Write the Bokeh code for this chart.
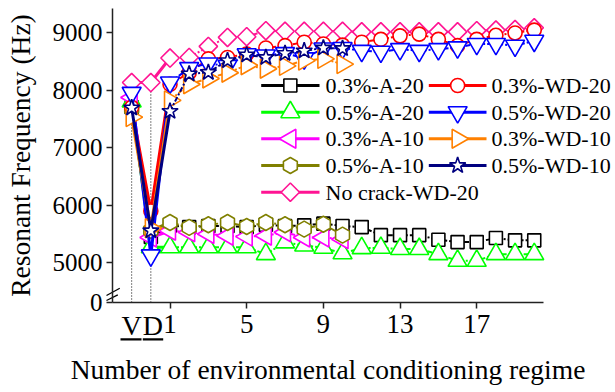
import math
from bokeh.plotting import figure
from bokeh.models import Range1d, FixedTicker, Label
from bokeh.core.properties import value
from bokeh.embed import file_html
from bokeh.resources import INLINE

# ---- data -------------------------------------------------------------
# x positions: V = -1, D = 0, then regimes 1..20
x_long = [-1, 0] + list(range(1, 21))
x_short = [-1, 0] + list(range(1, 11))
special_ticks = [-1, 0]
special_labels = ["V", "D"]
x_ticks = [1, 5, 9, 13, 17]
y_ticks = [5000, 6000, 7000, 8000, 9000]
y_break = 4311          # axis bottom, labelled "0" (broken axis)
y_top = 9420

a20_03 = [7700, 5450, 5650, 5620, 5640, 5640, 5620, 5660, 5640, 5650, 5680,
          5640, 5620, 5480, 5480, 5480, 5400, 5360, 5360, 5430, 5390, 5390]
a20_05 = [7800, 5270, 5270, 5270, 5270, 5270, 5270, 5150, 5355, 5300, 5260,
          5165, 5255, 5260, 5240, 5240, 5150, 5035, 5035, 5150, 5150, 5150]
a10_03 = [7870, 5440, 5557, 5530, 5500, 5470, 5455, 5470, 5530, 5440, 5440, 5410]
a10_05 = [7680, 5560, 5700, 5615, 5660, 5700, 5630, 5700, 5660, 5585, 5670, 5480]
nocrack = [8130, 8130, 8555, 8565, 8757, 8913, 8925, 9030, 9020, 9020, 9020,
           9020, 9010, 9010, 9010, 9010, 9010, 9010, 9030, 9040, 9050, 9080]
wd20_03 = [7700, 5900, 8100, 8300, 8540, 8565, 8625, 8730, 8770, 8830, 8800,
           8780, 8830, 8880, 8940, 8970, 8880, 8770, 8880, 8950, 8990, 9040]
wd20_05 = [7950, 5130, 8130, 8380, 8460, 8420, 8620, 8600, 8640, 8550, 8720,
           8730, 8680, 8665, 8710, 8680, 8710, 8740, 8800, 8800, 8770, 8855]
wd10_03 = [7530, 5600, 7820, 8100, 8200, 8300, 8430, 8370, 8420, 8510, 8540, 8450]
wd10_05 = [7690, 5557, 7630, 8280, 8306, 8510, 8610, 8565, 8635, 8680, 8730, 8720]

series = [
    ("0.3%-A-20", x_long, a20_03, "black", "square", 0.0, 13),
    ("0.5%-A-20", x_long, a20_05, "#00FF00", "triangle", 0.0, 19),
    ("0.3%-A-10", x_short, a10_03, "#FF00FF", "triangle", math.pi / 2, 19),
    ("0.5%-A-10", x_short, a10_05, "#808000", "hex", math.pi / 6, 16),
    ("No crack-WD-20", x_long, nocrack, "#FF1493", "square", math.pi / 4, 13),
    ("0.3%-WD-20", x_long, wd20_03, "#FF0000", "circle", 0.0, 14),
    ("0.5%-WD-20", x_long, wd20_05, "#0000FF", "inverted_triangle", 0.0, 19),
    ("0.3%-WD-10", x_short, wd10_03, "#FF8000", "triangle", -math.pi / 2, 19),
    ("0.5%-WD-10", x_short, wd10_05, "#000080", "star", 0.0, 17),
]

FONT = "Liberation Serif"

# ---- layout geometry (canvas pixels; Bokeh's page has no body margin) --
W, H = 615, 392
AX_LEFT_PX, AX_BOTTOM_PX = 112, 302        # where x=-2 / y=y_break sit
PX_PER_X = 19.17
PX_PER_Y = 0.0576


def xd(px):
    return -2 + (px - AX_LEFT_PX) / PX_PER_X


def yd(py):
    return y_break + (AX_BOTTOM_PX - py) / PX_PER_Y


p = figure(width=W, height=H, x_range=Range1d(xd(0), xd(W)),
           y_range=Range1d(yd(H), yd(0)), output_backend="svg",
           toolbar_location=None, min_border=0)
p.outline_line_color = None
p.grid.visible = False

# dotted guide lines at V and D
p.segment(x0=special_ticks, y0=[y_break] * 2, x1=special_ticks,
          y1=[nocrack[0], nocrack[1]], line_color="black",
          line_dash="1 2", line_width=1)

for name, xs, ys, color, marker, ang, size in series:
    p.line(xs[:3], ys[:3], line_color=color, line_width=3)
    p.line(xs[2:], ys[2:], line_color=color, line_width=2,
           line_dash="5 2 2 2")
    p.scatter(xs, ys, marker=marker, angle=ang, size=size,
              line_color=color, fill_color="white", line_width=1.6)

# ---- axes (fixed inside the full-canvas frame) ------------------------
xa = p.xaxis[0]
xa.fixed_location = y_break
xa.bounds = (-2, 20.5)
xa.ticker = FixedTicker(ticks=x_ticks)
xa.axis_label = "Number of environmental conditioning regime"
ya = p.yaxis[0]
ya.fixed_location = -2
ya.bounds = (y_break, y_top)
ya.ticker = FixedTicker(ticks=[y_break] + y_ticks)
ya.major_label_overrides = {y_break: "0"}
ya.axis_label = "Resonant Frequency (Hz)"
for ax in (xa, ya):
    ax.axis_line_width = 1.5
    ax.axis_line_color = "#222222"
    ax.major_tick_line_color = "#222222"
    ax.major_tick_line_width = 1.5
    ax.major_tick_out = 6
    ax.major_tick_in = 0
    ax.minor_tick_line_color = None
    ax.major_label_text_font = FONT
    ax.major_label_text_color = "black"
    ax.axis_label_text_font = FONT
    ax.axis_label_text_font_size = "27.5px"
    ax.axis_label_text_font_style = "normal"
    ax.axis_label_text_color = "black"
xa.major_label_text_font_size = "27px"
ya.major_label_text_font_size = "25px"
xa.major_label_standoff = 6
xa.axis_label_standoff = 18
ya.major_label_standoff = 4
ya.axis_label_standoff = 14

# V / D labels, underlined
for xv, lab, off in zip(special_ticks, special_labels, (0, 2)):
    p.add_layout(Label(x=xv, y=yd(325), x_offset=off, text=lab,
                       text_align="center", text_baseline="middle",
                       text_font=FONT, text_font_size="28px",
                       text_color="black"))
p.segment(x0=[xd(120), xd(142.3)], x1=[xd(141), xd(162.7)],
          y0=[yd(338.8)] * 2, y1=[yd(338.8)] * 2,
          line_color="black", line_width=2.3)

# axis break marks
p.segment(x0=[xd(106), xd(106)], y0=[yd(295), yd(300)],
          x1=[xd(119.3), xd(117.3)], y1=[yd(287.7), yd(294.3)],
          line_color="black", line_width=1.3)

# ---- legend (two columns, drawn with the same glyph styles) -----------
rows = [85, 111.7, 138.3, 165, 191.7]
cols = [(260.7, 319, 325), (428.3, 486, 491)]
for i, (name, xs, ys, color, marker, ang, size) in enumerate(series):
    c, r = (0, i) if i < 5 else (1, i - 5)
    gx0, gx1, tx = cols[c]
    ry = yd(rows[r])
    p.segment(x0=[xd(gx0)], x1=[xd(gx1)], y0=[ry], y1=[ry],
              line_color=color, line_width=3)
    p.scatter([xd((gx0 + gx1) / 2)], [ry], marker=marker, angle=ang,
              size=size, line_color=color, fill_color="white",
              line_width=1.6)
    p.text([xd(tx)], [ry], text=[name], text_font=value(FONT),
           text_font_size="22px", text_baseline="middle",
           text_align="left", text_color="black")

open("out.html", "w").write(file_html(p, INLINE))
